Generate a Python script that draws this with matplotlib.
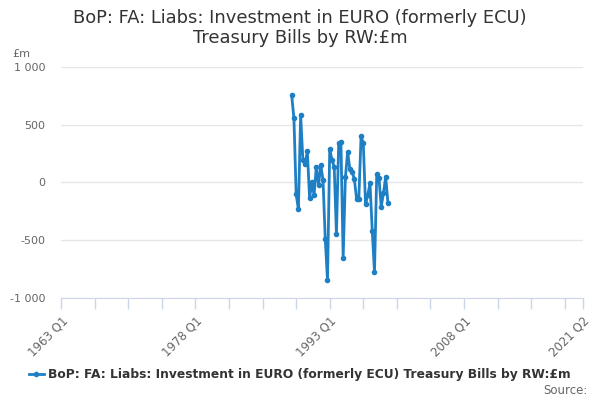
import matplotlib
matplotlib.use("Agg")
import matplotlib.pyplot as plt

TITLE = "BoP: FA: Liabs: Investment in EURO (formerly ECU)\nTreasury Bills by RW:£m"
SERIES_NAME = "BoP: FA: Liabs: Investment in EURO (formerly ECU) Treasury Bills by RW:£m"

# quarterly categories on the axis run 1963 Q1 .. 2021 Q2
last_label = "2021 Q2"
quarters = []
for yr in range(1963, 2022):
    for q in range(1, 5):
        quarters.append("%d Q%d" % (yr, q))
quarters = quarters[:quarters.index(last_label) + 1]

# series starts 1988 Q4
series_start = "1988 Q4"
values = [757, 555, -104, -234, 587, 194, 160, 272, -139, 6,
          -110, 136, -23, 150, 20, -494, -847, 289, 194, 136,
          -450, 338, 352, -653, 43, 266, 113, 92, 29, -144,
          -144, 402, 338, -191, -110, -9, -422, -780, 69, 40,
          -211, -95, 49, -176]

tick_labels = ["1963 Q1", "1978 Q1", "1993 Q1", "2008 Q1", "2021 Q2"]
y_ticks = [-1000, -500, 0, 500, 1000]
y_tick_labels = ["-1 000", "-500", "0", "500", "1 000"]

start = quarters.index(series_start)
xs = list(range(start, start + len(values)))

fig = plt.figure(figsize=(6, 4), dpi=100)
ax = fig.add_axes([0.102, 0.256, 0.869, 0.576])

ax.plot(xs, values, color="#1f7fc4", lw=2, marker="o", ms=3, zorder=3)

ax.set_xlim(0, len(quarters) - 1)
ax.set_ylim(-1000, 1000)
ax.set_yticks(y_ticks)
ax.set_yticklabels(y_tick_labels)
ax.grid(axis="y", color="#e6e6e6", lw=1)
ax.set_axisbelow(True)

major = [quarters.index(t) for t in tick_labels]
ax.set_xticks(major)
ax.set_xticklabels(tick_labels, rotation=45, ha="right", va="top",
                   rotation_mode="anchor", color="#666666", fontsize=8.5)
minor = [i for i in range(0, len(quarters), 15) if i not in major]
ax.set_xticks(minor, minor=True)
ax.tick_params(axis="x", which="both", length=8, color="#ccd6eb", width=1, pad=4)
ax.tick_params(axis="y", length=0, labelcolor="#666666", labelsize=8, pad=11.4)

for s in ["top", "right", "left"]:
    ax.spines[s].set_visible(False)
ax.spines["bottom"].set_color("#ccd6eb")

fig.text(0.5, 0.93, TITLE, ha="center", va="center", fontsize=12.9,
         color="#333333", linespacing=1.1)
fig.text(0.02, 0.865, "£m", fontsize=8, color="#666666", va="center")

ax.plot([], [], color="#1f7fc4", lw=2, marker="o", ms=3, label=SERIES_NAME)
leg = fig.legend(loc="center", bbox_to_anchor=(0.5, 0.063), frameon=False,
                 prop={"weight": "bold", "size": 8.8}, handlelength=1.2,
                 handletextpad=0.4)
for t in leg.get_texts():
    t.set_color("#333333")
fig.text(0.98, 0.025, "Source:", ha="right", va="center", fontsize=8.5,
         color="#666666")

fig.savefig("out.png", dpi=100)
